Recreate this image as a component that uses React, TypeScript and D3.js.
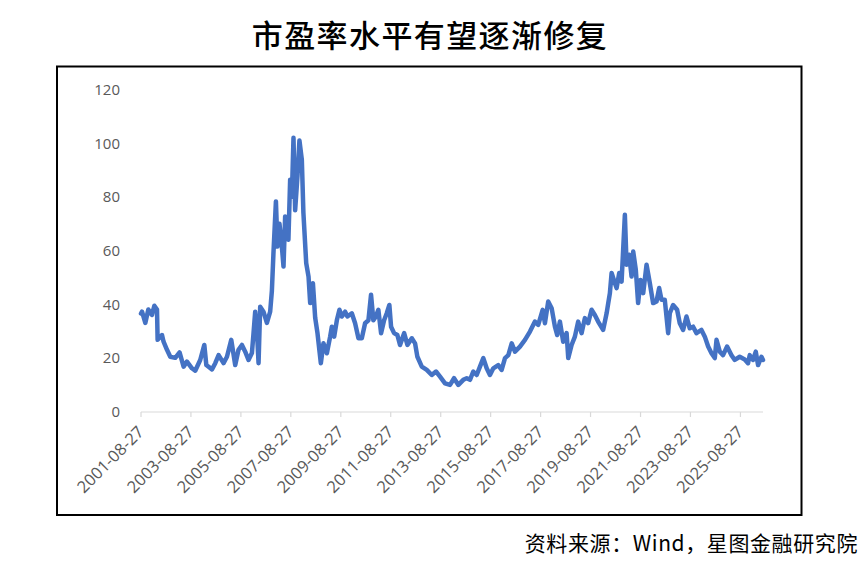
import * as React from 'react';
import { useRef, useEffect } from 'react';
import * as d3 from 'd3';

const title = '市盈率水平有望逐渐修复';
const source = '资料来源：Wind，星图金融研究院';

// dates (approx.)
const dates: string[] = [
  '2001-08-27', '2001-09-11', '2001-10-29', '2001-12-12', '2002-02-04', '2002-03-10', '2002-04-18', '2002-04-27',
  '2002-06-30', '2002-07-23', '2002-09-11', '2002-10-29', '2003-01-10', '2003-03-14', '2003-05-12', '2003-06-30',
  '2003-09-11', '2003-10-29', '2004-01-10', '2004-03-10', '2004-04-08', '2004-06-30', '2004-08-17', '2004-10-05',
  '2004-12-16', '2005-02-04', '2005-04-08', '2005-06-05', '2005-07-23', '2005-09-11', '2005-10-29', '2005-12-16',
  '2006-02-04', '2006-02-27', '2006-03-24', '2006-04-18', '2006-05-12', '2006-06-05', '2006-07-23', '2006-09-11',
  '2006-10-29', '2006-11-23', '2006-12-16', '2007-01-21', '2007-02-13', '2007-03-14', '2007-04-18', '2007-05-12',
  '2007-06-05', '2007-07-23', '2007-08-17', '2007-09-11', '2007-10-05', '2007-10-29', '2007-12-02', '2007-12-31',
  '2008-02-04', '2008-02-27', '2008-04-08', '2008-05-12', '2008-06-05', '2008-07-15', '2008-08-17', '2008-09-20',
  '2008-11-08', '2008-12-16', '2009-02-04', '2009-03-24', '2009-04-18', '2009-05-22', '2009-06-30', '2009-08-07',
  '2009-09-11', '2009-10-29', '2009-12-02', '2010-02-04', '2010-03-24', '2010-05-12', '2010-06-30', '2010-08-17',
  '2010-10-05', '2010-11-12', '2010-12-16', '2011-01-21', '2011-02-27', '2011-04-08', '2011-05-22', '2011-06-30',
  '2011-08-07', '2011-09-01', '2011-10-15', '2011-12-02', '2012-01-10', '2012-03-10', '2012-04-27', '2012-06-30',
  '2012-08-17', '2012-09-20', '2012-11-23', '2013-02-04', '2013-04-18', '2013-06-19', '2013-08-17', '2013-10-29',
  '2014-01-10', '2014-03-10', '2014-05-12', '2014-07-23', '2014-09-11', '2014-10-29', '2014-12-16', '2015-02-04',
  '2015-03-24', '2015-05-12', '2015-06-30', '2015-08-17', '2015-10-05', '2015-12-16', '2016-02-04', '2016-03-24',
  '2016-05-12', '2016-06-30', '2016-08-17', '2016-10-29', '2017-01-10', '2017-03-24', '2017-06-05', '2017-07-23',
  '2017-09-26', '2017-10-29', '2017-12-16', '2018-02-04', '2018-03-24', '2018-04-27', '2018-06-05', '2018-07-23',
  '2018-09-11', '2018-10-05', '2018-11-23', '2019-01-10', '2019-02-27', '2019-04-18', '2019-06-05', '2019-07-23',
  '2019-09-11', '2019-10-29', '2019-12-16', '2020-02-27', '2020-04-18', '2020-05-12', '2020-06-05', '2020-06-30',
  '2020-08-02', '2020-09-11', '2020-10-19', '2020-11-23', '2020-12-16', '2021-01-10', '2021-02-04', '2021-03-14',
  '2021-04-18', '2021-05-12', '2021-06-19', '2021-07-23', '2021-08-27', '2021-10-05', '2021-11-23', '2022-01-10',
  '2022-02-27', '2022-04-18', '2022-05-26', '2022-06-30', '2022-08-17', '2022-10-05', '2022-10-29', '2022-12-16',
  '2023-02-13', '2023-03-24', '2023-05-12', '2023-06-30', '2023-08-17', '2023-10-05', '2023-11-23', '2024-02-04',
  '2024-03-24', '2024-05-12', '2024-06-30', '2024-08-17', '2024-09-11', '2024-10-29', '2024-12-16', '2025-02-13',
  '2025-04-18', '2025-06-05', '2025-08-17', '2025-10-29', '2025-12-16', '2026-01-10', '2026-02-27', '2026-04-08',
  '2026-05-12', '2026-06-30', '2026-07-23',
];

// P/E values
const pe: number[] = [
  36.5, 37.2, 33, 38, 36, 39.4, 38, 26.7,
  28.5, 26, 23, 20.4, 20, 22, 16.7, 18.6,
  16.1, 15.2, 19.2, 24.8, 17.3, 15.7, 18, 21,
  18, 20.4, 26.7, 17.3, 23, 24.8, 22.3, 19.2,
  21.8, 29, 37.2, 30.4, 18, 39, 37.2, 33,
  37.2, 45, 59, 78.3, 61.5, 70, 61.5, 54,
  72.7, 64, 86.4, 80, 102, 75, 87.6, 101,
  93.8, 74, 55.3, 50.3, 40.4, 47.8, 35, 29.2,
  18, 25.4, 21.7, 27.9, 31.6, 27.9, 34, 37.9,
  35.4, 37.2, 35.4, 36.6, 32.9, 27.3, 27.3, 32.9,
  34, 43.5, 34, 35.4, 37.9, 29.2, 34, 36.6,
  39.7, 31.6, 29.2, 28.5, 24.8, 29.2, 24.8, 27.3,
  25.4, 20.4, 16.7, 15.5, 13.6, 14.9, 13, 10.5,
  9.9, 12.4, 9.9, 11.8, 12.4, 11.8, 14.9, 13.6,
  16.7, 19.9, 16.1, 13.6, 16.1, 17.3, 15.5, 19.9,
  21, 25.4, 22.3, 24.2, 26.7, 29.8, 33.5, 32.3,
  37.9, 32.9, 41, 38.5, 31.6, 28.5, 33.5, 26,
  29.2, 19.9, 24.8, 27.9, 33.5, 29.2, 34.8, 32.9,
  37.9, 36, 33.5, 30.4, 36.6, 40.4, 44.1, 51.6,
  49, 46, 51.6, 48.4, 60.3, 73.3, 54.7, 58.4,
  50.3, 59.6, 52.8, 40.4, 49, 44.1, 54.7, 47.8,
  40.4, 41, 46, 41.6, 41.6, 29.2, 36.6, 39.7,
  37.9, 32.9, 30.4, 35.4, 31, 31.6, 29.2, 30.4,
  27.9, 24.2, 21.7, 19.9, 26.7, 22.3, 21, 24.2,
  21, 19.2, 20.4, 19.4, 18, 21, 19.2, 22.3,
  17.3, 20.4, 19.2,
];

const tickDates: string[] = [
  '2001-08-27', '2003-08-27', '2005-08-27', '2007-08-27', '2009-08-27', '2011-08-27', '2013-08-27',
  '2015-08-27', '2017-08-27', '2019-08-27', '2021-08-27', '2023-08-27', '2025-08-27',
];
const yTicks: number[] = [0, 20, 40, 60, 80, 100, 120];

const W = 865;
const H = 568;

export default function App() {
  const svgRef = useRef<SVGSVGElement | null>(null);

  useEffect(() => {
    if (!svgRef.current) return;
    const svg = d3.select(svgRef.current);
    svg.selectAll('*').remove();

    const parse = d3.timeParse('%Y-%m-%d');
    const data = dates.map((d, i) => ({ date: parse(d) as Date, value: pe[i] }));

    const x = d3.scaleTime()
      .domain([parse(dates[0]) as Date, parse(dates[dates.length - 1]) as Date])
      .range([141, 763]);
    const y = d3.scaleLinear().domain([0, 120]).range([411.5, 89.5]);

    svg.append('rect').attr('width', W).attr('height', H).attr('fill', '#fff');

    // title
    svg.append('text')
      .attr('x', 430)
      .attr('y', 47)
      .attr('text-anchor', 'middle')
      .attr('font-family', '"Noto Sans CJK SC", sans-serif')
      .attr('font-size', 31)
      .attr('font-weight', 500)
      .attr('letter-spacing', 1.4)
      .attr('fill', '#000')
      .text(title);

    // frame
    svg.append('rect')
      .attr('x', 57)
      .attr('y', 66.5)
      .attr('width', 744.5)
      .attr('height', 448.5)
      .attr('fill', 'none')
      .attr('stroke', '#000')
      .attr('stroke-width', 2);

    // y labels
    svg.append('g')
      .selectAll('text')
      .data(yTicks)
      .join('text')
      .attr('x', 120)
      .attr('y', d => y(d))
      .attr('dy', '0.36em')
      .attr('text-anchor', 'end')
      .attr('font-family', '"Open Sans", sans-serif')
      .attr('font-size', 15)
      .attr('fill', '#595959')
      .text(d => d);

    // x axis line + ticks
    const axisY = y(0) + 0.5;
    svg.append('line')
      .attr('x1', x.range()[0])
      .attr('x2', x.range()[1])
      .attr('y1', axisY)
      .attr('y2', axisY)
      .attr('stroke', '#d9d9d9')
      .attr('stroke-width', 1.2);

    const tickG = svg.append('g');
    tickDates.forEach(t => {
      const tx = x(parse(t) as Date);
      tickG.append('line')
        .attr('x1', tx).attr('x2', tx)
        .attr('y1', axisY).attr('y2', axisY + 5)
        .attr('stroke', '#d9d9d9')
        .attr('stroke-width', 1.2);
      tickG.append('text')
        .attr('transform', `translate(${tx + 4}, ${axisY + 21}) rotate(-45)`)
        .attr('text-anchor', 'end')
        .attr('font-family', '"Open Sans", sans-serif')
        .attr('font-size', 16.5)
        .attr('fill', '#595959')
        .text(t);
    });

    // series
    const line = d3.line<{ date: Date; value: number }>()
      .x(d => x(d.date))
      .y(d => y(d.value));

    svg.append('path')
      .datum(data)
      .attr('d', line)
      .attr('fill', 'none')
      .attr('stroke', '#4472C4')
      .attr('stroke-width', 4.5)
      .attr('stroke-linejoin', 'round')
      .attr('stroke-linecap', 'round');

    // source note
    svg.append('text')
      .attr('x', 858)
      .attr('y', 551)
      .attr('text-anchor', 'end')
      .attr('font-family', '"Noto Sans CJK SC", sans-serif')
      .attr('font-size', 21)
      .attr('letter-spacing', 0.6)
      .attr('fill', '#000')
      .text(source);
  }, []);

  return (
    <svg
      ref={svgRef}
      width={W}
      height={H}
      style={{ position: 'absolute', left: 0, top: 0, display: 'block' }}
    />
  );
}
